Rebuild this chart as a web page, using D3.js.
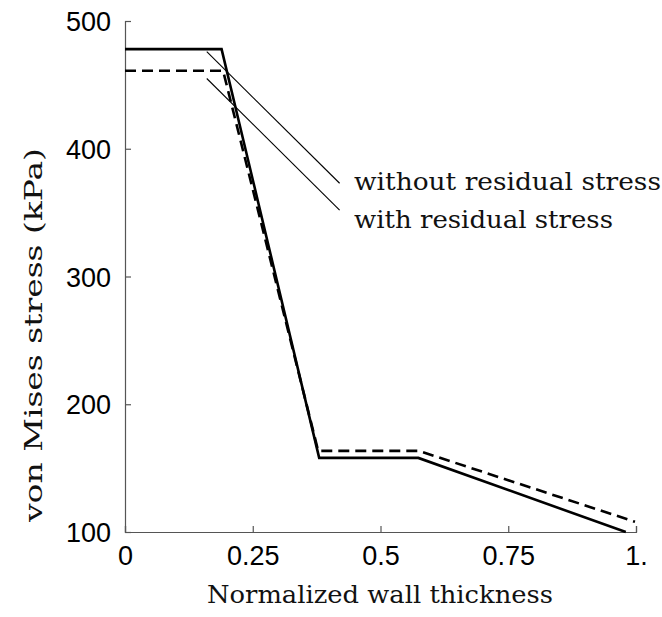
<!DOCTYPE html>
<html>
<head>
<meta charset="utf-8">
<script src="https://cdn.jsdelivr.net/npm/d3@7"></script>
<style>
  html, body { margin: 0; padding: 0; background: #fff; }
  svg { display: block; }
</style>
</head>
<body>
<svg id="chart" width="662" height="617"></svg>
<script>
// Normalized wall thickness (x) and von Mises stress in kPa (y)
const withoutResidualX = [0, 0.189, 0.38, 0.574, 0.98];
const withoutResidualY = [478, 478, 158, 158, 100];
const withResidualX = [0, 0.192, 0.378, 0.575, 0.998];
const withResidualY = [461, 461, 163.5, 163.5, 108];

const xTicks = [0, 0.25, 0.5, 0.75, 1];
const xTickLabels = ["0", "0.25", "0.5", "0.75", "1."];
const yTicks = [100, 200, 300, 400, 500];
const yTickLabels = ["100", "200", "300", "400", "500"];

// Callout leader lines in data units, and their labels
const calloutLabels = ["without residual stress", "with residual stress"];
const calloutStart = [[0.16, 476], [0.16, 455]];
const calloutEnd = [[0.42, 373], [0.42, 352]];

const svg = d3.select("#chart");
const x = d3.scaleLinear().domain([0, 1]).range([125, 636]);
const y = d3.scaleLinear().domain([100, 500]).range([532, 21]);

const serif = "'DejaVu Serif', 'Liberation Serif', serif";
const sans = "'Liberation Sans', Arial, sans-serif";

// Axes with inward ticks
const xAxis = d3.axisBottom(x).tickValues(xTicks).tickSize(-6)
  .tickFormat((d, i) => xTickLabels[i]).tickPadding(14);
const yAxis = d3.axisLeft(y).tickValues(yTicks).tickSize(-6)
  .tickFormat((d, i) => yTickLabels[i]).tickPadding(14);

const gx = svg.append("g").attr("transform", `translate(0,${y(100)})`).call(xAxis);
const gy = svg.append("g").attr("transform", `translate(${x(0)},0)`).call(yAxis);

[gx, gy].forEach(g => {
  g.select(".domain").attr("stroke", "#555").attr("stroke-width", 1.2);
  g.selectAll(".tick line").attr("stroke", "#555").attr("stroke-width", 1.2);
  g.selectAll(".tick text").attr("fill", "#000")
    .style("font-family", sans).style("font-size", "27px");
});
gx.selectAll(".tick text").attr("dy", "0.72em");
gy.selectAll(".tick text").attr("dy", "0.36em");

// Stress curves
const line = d3.line().x(d => x(d[0])).y(d => y(d[1]));
const solidPts = withoutResidualX.map((v, i) => [v, withoutResidualY[i]]);
const dashedPts = withResidualX.map((v, i) => [v, withResidualY[i]]);

svg.append("path").datum(dashedPts)
  .attr("d", line).attr("fill", "none").attr("stroke", "#000")
  .attr("stroke-width", 2.6).attr("stroke-dasharray", "11,6")
  .attr("stroke-linejoin", "miter");
svg.append("path").datum(solidPts)
  .attr("d", line).attr("fill", "none").attr("stroke", "#000")
  .attr("stroke-width", 2.6).attr("stroke-linejoin", "miter");

// Callout leaders and labels
const calloutWidths = [307, 259];
const calloutBaselines = [190, 228];
calloutLabels.forEach((label, i) => {
  svg.append("line")
    .attr("x1", x(calloutStart[i][0])).attr("y1", y(calloutStart[i][1]))
    .attr("x2", x(calloutEnd[i][0])).attr("y2", y(calloutEnd[i][1]))
    .attr("stroke", "#000").attr("stroke-width", 1.1);
  svg.append("text")
    .attr("x", 354).attr("y", calloutBaselines[i])
    .attr("textLength", calloutWidths[i]).attr("lengthAdjust", "spacingAndGlyphs")
    .style("font-family", serif).style("font-size", "25px")
    .attr("fill", "#111").text(label);
});

// Axis titles
svg.append("text")
  .attr("x", 207).attr("y", 603)
  .attr("textLength", 346).attr("lengthAdjust", "spacingAndGlyphs")
  .style("font-family", serif).style("font-size", "25px").attr("fill", "#111")
  .text("Normalized wall thickness");

svg.append("text")
  .attr("transform", `translate(42,522) rotate(-90)`)
  .attr("textLength", 374).attr("lengthAdjust", "spacingAndGlyphs")
  .style("font-family", serif).style("font-size", "25px").attr("fill", "#111")
  .text("von Mises stress (kPa)");
</script>
</body>
</html>
